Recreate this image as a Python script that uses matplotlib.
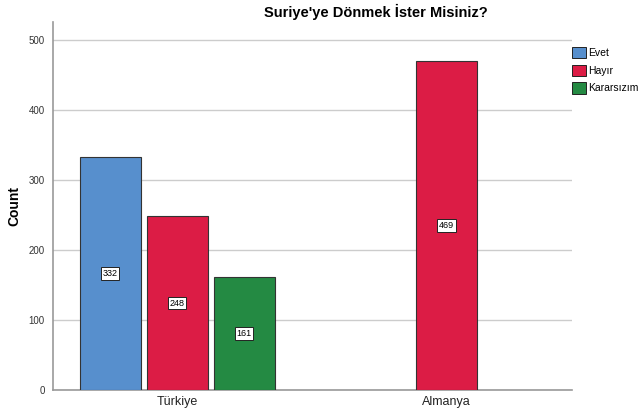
import numpy as np
import matplotlib
matplotlib.use('Agg')
import matplotlib.pyplot as plt
from matplotlib.patches import Patch

plt.rcParams['font.family'] = ['Liberation Sans', 'DejaVu Sans']

# data
groups = ['Türkiye', 'Almanya']
answers = ['Evet', 'Hayır', 'Kararsızım']
evet = [332, 0]
hayir = [248, 469]
kararsizim = [161, 0]
colors = ['#578fcd', '#dc1c45', '#248a43']

fig = plt.figure(figsize=(6.44, 4.17), dpi=100)
ax = fig.add_axes([0.0823, 0.0647, 0.806, 0.882])

width = 0.227
step = 0.249
series = [evet, hayir, kararsizim]
for gi, g in enumerate(groups):
    present = [i for i in range(3) if series[i][gi] > 0]
    n = len(present)
    for k, i in enumerate(present):
        x = gi + (k - (n - 1) / 2) * step
        v = series[i][gi]
        ax.bar(x, v, width=width, color=colors[i], edgecolor='#333333', linewidth=0.8, zorder=3)
        ax.text(x, v / 2, str(v), ha='center', va='center', fontsize=6.5, zorder=4,
                bbox=dict(boxstyle='square,pad=0.2', facecolor='white', edgecolor='#222222', linewidth=0.7))

ax.set_xlim(-0.461, 1.468)
ax.set_ylim(0, 525)
ax.set_xticks([0, 1])
ax.set_xticklabels(groups, fontsize=9, color='#222222')
ax.set_yticks([0, 100, 200, 300, 400, 500])
ax.tick_params(axis='y', labelsize=7, length=0, pad=6, colors='#333333')
ax.tick_params(axis='x', length=0, pad=4)
ax.yaxis.grid(True, color='#cccccc', linewidth=1, zorder=0)
ax.set_axisbelow(True)
for s in ['top', 'right']:
    ax.spines[s].set_visible(False)
for s in ['left', 'bottom']:
    ax.spines[s].set_color('#999999')
    ax.spines[s].set_linewidth(1.2)
ax.set_ylabel('Count', fontsize=10, fontweight='bold', labelpad=5)

fig.text(376 / 644, 1 - 12 / 417, "Suriye'ye Dönmek İster Misiniz?", ha='center', va='center',
         fontsize=10.5, fontweight='bold')

handles = [Patch(facecolor=c, edgecolor='#222222', linewidth=0.7) for c in colors]
fig.legend(handles, answers, loc='upper left', bbox_to_anchor=(572 / 644, 1 - 47 / 417),
           frameon=False, fontsize=7.5, handlelength=1.3, handleheight=1.3,
           handletextpad=0.25, labelspacing=0.6, borderaxespad=0, borderpad=0)

fig.savefig('out.png', dpi=100)
